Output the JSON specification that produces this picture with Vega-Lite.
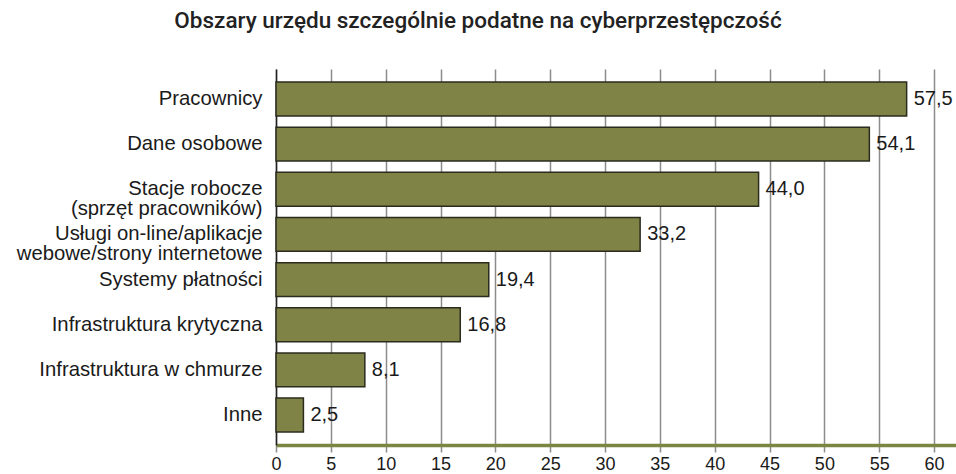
{
  "$schema": "https://vega.github.io/schema/vega-lite/v6.json",
  "width": 680,
  "height": 376,
  "autosize": {"type": "none"},
  "padding": {"left": 276, "top": 69, "right": 0, "bottom": 29},
  "background": "white",
  "title": {
    "text": "Obszary urzędu szczególnie podatne na cyberprzestępczość",
    "font": "Roboto",
    "fontSize": 22.5,
    "fontWeight": 500,
    "color": "#222222",
    "anchor": "middle",
    "frame": "group",
    "dx": -138,
    "offset": 37
  },
  "config": {
    "view": {"stroke": null},
    "locale": {
      "number": {"decimal": ",", "thousands": " ", "grouping": [3], "currency": ["", " zł"]}
    }
  },
  "data": {
    "values": [
      {"kategoria": "Pracownicy", "procent": 57.5},
      {"kategoria": "Dane osobowe", "procent": 54.1},
      {"kategoria": "Stacje robocze|(sprzęt pracowników)", "procent": 44.0},
      {"kategoria": "Usługi on-line/aplikacje|webowe/strony internetowe", "procent": 33.2},
      {"kategoria": "Systemy płatności", "procent": 19.4},
      {"kategoria": "Infrastruktura krytyczna", "procent": 16.8},
      {"kategoria": "Infrastruktura w chmurze", "procent": 8.1},
      {"kategoria": "Inne", "procent": 2.5}
    ]
  },
  "encoding": {
    "y": {
      "field": "kategoria",
      "type": "nominal",
      "sort": null,
      "scale": {"paddingInner": 0.25, "paddingOuter": 0.29},
      "axis": {
        "title": null,
        "labelExpr": "split(datum.label, '|')",
        "labelFont": "Liberation Sans",
        "labelFontSize": 20.3,
        "labelColor": "#1a1a1a",
        "labelLineHeight": 20,
        "labelPadding": 14,
        "labelLimit": 300,
        "ticks": false,
        "domain": true,
        "domainColor": "#222222",
        "domainWidth": 1.5,
        "grid": false
      }
    }
  },
  "layer": [
    {
      "mark": {"type": "bar", "color": "#7f8446", "stroke": "#2b2b1e", "strokeWidth": 1.5},
      "encoding": {
        "x": {
          "field": "procent",
          "type": "quantitative",
          "scale": {"domain": [0, 62], "nice": false},
          "axis": {
            "title": null,
            "values": [0, 5, 10, 15, 20, 25, 30, 35, 40, 45, 50, 55, 60],
            "grid": true,
            "gridColor": "#8c8c8c",
            "gridWidth": 1.5,
            "gridOpacity": 1,
            "domainColor": "#7b8640",
            "domainWidth": 3.5,
            "tickColor": "#8c8c8c",
            "tickWidth": 1.5,
            "tickSize": 7,
            "labelFont": "Liberation Sans",
            "labelFontSize": 18,
            "labelColor": "#1a1a1a",
            "labelPadding": 3,
            "labelFlush": false
          }
        }
      }
    },
    {
      "mark": {"type": "text", "align": "left", "baseline": "middle", "dx": 7, "font": "Liberation Sans", "fontSize": 20, "color": "#1a1a1a"},
      "encoding": {
        "x": {"field": "procent", "type": "quantitative"},
        "text": {"field": "procent", "type": "quantitative", "format": ".1f"}
      }
    }
  ]
}
